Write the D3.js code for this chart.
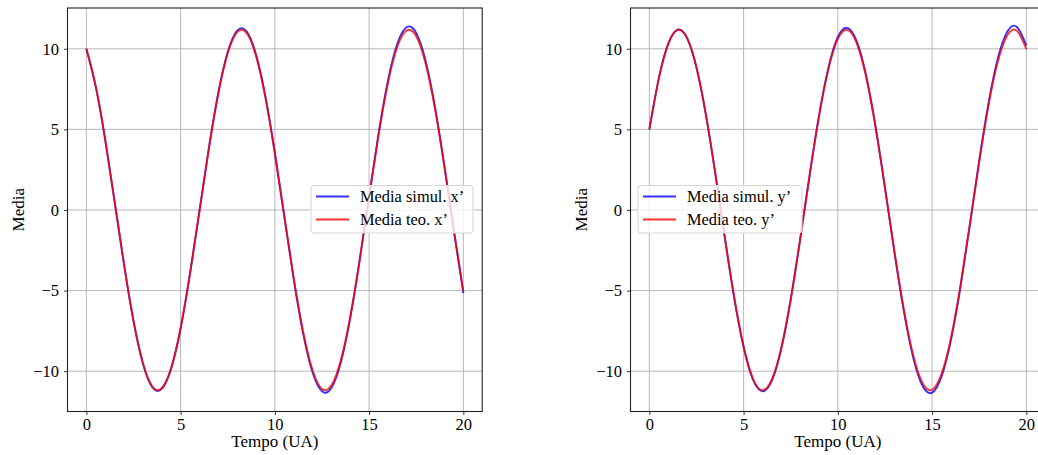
<!DOCTYPE html>
<html><head><meta charset="utf-8">
<script src="https://cdn.jsdelivr.net/npm/d3@7"></script>
<style>
body{margin:0;background:#fff;overflow:hidden}
text{font-family:"Liberation Serif","DejaVu Serif",serif;fill:#000}
</style>
</head><body>
<svg id="c" width="1038" height="455"></svg>
<script>
// ---- data ----
const time = [0,0.5,1,1.5,2,2.5,3,3.5,4,4.5,5,5.5,6,6.5,7,7.5,8,8.5,9,9.5,10,10.5,11,11.5,12,12.5,13,13.5,14,14.5,15,15.5,16,16.5,17,17.5,18,18.5,19,19.5,20];

const meanSimX = [10.00,7.65,4.36,0.52,-3.39,-6.88,-9.52,-10.99,-11.10,-9.84,-7.36,-3.95,-0.07,3.84,7.27,9.80,11.13,11.08,9.65,7.04,3.55,-0.38,-4.28,-7.65,-10.07,-11.25,-11.04,-9.46,-6.71,-3.13,0.84,4.72,8.02,10.32,11.35,10.98,9.25,6.37,2.70,-1.31,-5.16];
const meanTeoX = [10.00,7.65,4.36,0.52,-3.38,-6.86,-9.49,-10.95,-11.05,-9.79,-7.32,-3.93,-0.07,3.81,7.21,9.72,11.03,10.98,9.56,6.97,3.51,-0.38,-4.23,-7.55,-9.94,-11.10,-10.88,-9.32,-6.61,-3.08,0.83,4.64,7.88,10.14,11.14,10.77,9.07,6.24,2.64,-1.28,-5.05];

const meanSimY = [5.00,8.15,10.30,11.19,10.68,8.85,5.92,2.26,-1.68,-5.43,-8.50,-10.53,-11.25,-10.59,-8.61,-5.57,-1.83,2.14,5.85,8.83,10.73,11.30,10.48,8.35,5.19,1.39,-2.60,-6.26,-9.16,-10.92,-11.33,-10.34,-8.07,-4.81,-0.94,3.06,6.67,9.46,11.09,11.35,10.20];
const meanTeoY = [5.00,8.15,10.29,11.17,10.66,8.83,5.90,2.25,-1.67,-5.40,-8.45,-10.47,-11.18,-10.51,-8.54,-5.52,-1.81,2.12,5.79,8.74,10.61,11.17,10.35,8.25,5.12,1.37,-2.56,-6.17,-9.02,-10.75,-11.15,-10.17,-7.93,-4.72,-0.92,3.00,6.54,9.27,10.86,11.11,9.98];

const xTicks = [0,5,10,15,20];
const yTicks = [-10,-5,0,5,10];
const legendX = ["Media simul. x\u2019","Media teo. x\u2019"];
const legendY = ["Media simul. y\u2019","Media teo. y\u2019"];
const xLabel = "Tempo (UA)";
const yLabel = "Media";

// ---- drawing ----
const svg = d3.select("#c");
const plotTop = 8, plotBottom = 411.5;
const simColor = "rgba(0,0,255,0.8)", teoColor = "rgba(255,0,0,0.8)";
const fmt = d => d < 0 ? "\u2212" + Math.abs(d) : String(d);

const panels = [
  {left:67.5, right:482.2, sim:meanSimX, teo:meanTeoX, labels:legendX, lg:{x:311,y:185.5,w:162,h:47.5}, ylx:18.5},
  {left:630.5, right:1045.2, sim:meanSimY, teo:meanTeoY, labels:legendY, lg:{x:638,y:185.5,w:164,h:47.5}, ylx:581.5}
];

panels.forEach((p,i) => {
  const x = d3.scaleLinear().domain([-1,21]).range([p.left,p.right]);
  const y = d3.scaleLinear().domain([-12.5,12.53]).range([plotBottom,plotTop]);
  const g = svg.append("g");
  const cid = "clip"+i;
  g.append("clipPath").attr("id",cid).append("rect")
    .attr("x",p.left).attr("y",plotTop).attr("width",p.right-p.left).attr("height",plotBottom-plotTop);

  // grid
  g.append("g").selectAll("line").data(xTicks).join("line")
    .attr("x1",d=>x(d)).attr("x2",d=>x(d)).attr("y1",plotTop).attr("y2",plotBottom)
    .attr("stroke","#b0b0b0").attr("stroke-width",0.9);
  g.append("g").selectAll("line").data(yTicks).join("line")
    .attr("y1",d=>y(d)).attr("y2",d=>y(d)).attr("x1",p.left).attr("x2",p.right)
    .attr("stroke","#b0b0b0").attr("stroke-width",0.9);

  // lines
  const line = arr => d3.line().curve(d3.curveNatural)
    .x((d,k)=>x(time[k])).y(d=>y(d))(arr);
  g.append("path").attr("d",line(p.sim)).attr("fill","none")
    .attr("stroke",simColor).attr("stroke-width",1.9).attr("clip-path",`url(#${cid})`);
  g.append("path").attr("d",line(p.teo)).attr("fill","none")
    .attr("stroke",teoColor).attr("stroke-width",1.9).attr("clip-path",`url(#${cid})`);

  // frame
  g.append("rect").attr("x",p.left).attr("y",plotTop).attr("width",p.right-p.left).attr("height",plotBottom-plotTop)
    .attr("fill","none").attr("stroke","#222").attr("stroke-width",1.1);

  // axes
  const ax = g.append("g").attr("transform",`translate(0,${plotBottom})`)
    .call(d3.axisBottom(x).tickValues(xTicks).tickFormat(fmt).tickSize(3.5).tickPadding(3.3));
  const ay = g.append("g").attr("transform",`translate(${p.left},0)`)
    .call(d3.axisLeft(y).tickValues(yTicks).tickFormat(fmt).tickSize(3.5).tickPadding(5));
  [ax,ay].forEach(a => {
    a.select(".domain").remove();
    a.selectAll(".tick line").attr("stroke","#222").attr("stroke-width",0.9);
    a.selectAll(".tick text").attr("font-size","16.5px")
      .attr("font-family",'"Liberation Serif","DejaVu Serif",serif').attr("fill","#000");
  });

  // axis labels
  g.append("text").attr("x",(x(0)+x(20))/2).attr("y",447).attr("text-anchor","middle")
    .attr("font-size","17px").text(xLabel);
  g.append("text").attr("transform",`translate(${p.ylx},${(plotTop+plotBottom)/2}) rotate(-90)`)
    .attr("text-anchor","middle").attr("dy","0.35em").attr("font-size","17px").text(yLabel);

  // legend
  const L = g.append("g");
  L.append("rect").attr("x",p.lg.x).attr("y",p.lg.y).attr("width",p.lg.w).attr("height",p.lg.h)
    .attr("rx",3).attr("fill","rgba(255,255,255,0.8)").attr("stroke","#d5d5d5").attr("stroke-width",1);
  [simColor,teoColor].forEach((c,k) => {
    const cy = p.lg.y + 11 + k*23;
    L.append("line").attr("x1",p.lg.x+5).attr("x2",p.lg.x+38).attr("y1",cy).attr("y2",cy)
      .attr("stroke",c).attr("stroke-width",1.9);
    L.append("text").attr("x",p.lg.x+49).attr("y",cy).attr("dy","0.33em")
      .attr("font-size","16.4px").text(p.labels[k]);
  });
});
</script>
</body></html>
